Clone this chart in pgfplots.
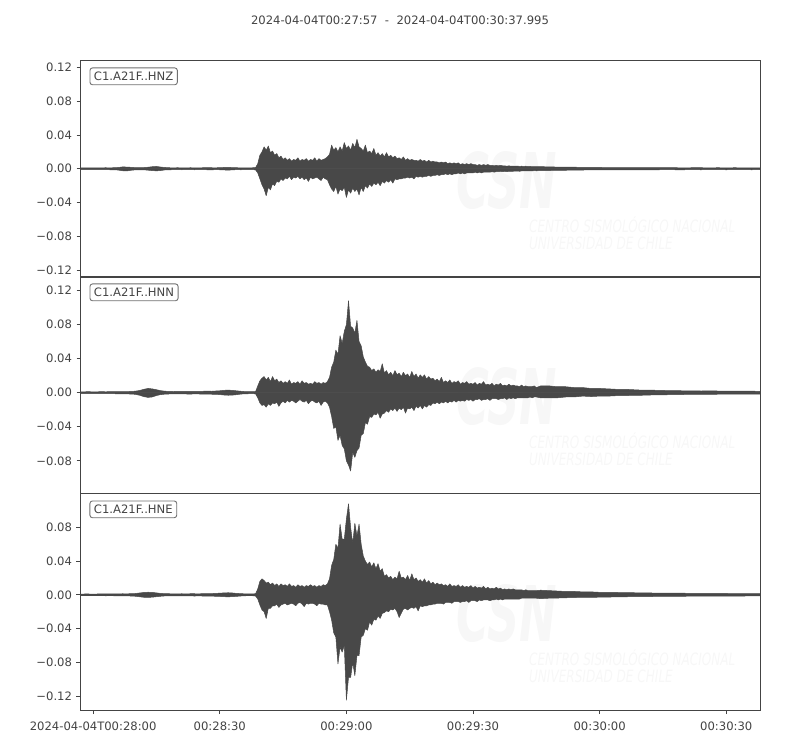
\documentclass[border=0pt]{standalone}
\usepackage{pgfplots}
\usepackage{pgfplotstable}
\pgfplotsset{compat=1.18}
\usepackage{fontspec}
\setmainfont{DejaVu Sans}

\definecolor{fg}{HTML}{444444}
\definecolor{tracecol}{HTML}{484848}
\definecolor{boxedge}{HTML}{707070}
\definecolor{wmark}{HTML}{F7F7F7}

% envelope of each trace: time (s after 00:28:00), upper, lower
\pgfplotstableread{
t u l
-3 0.0010 -0.0009
-2 0.0009 -0.0011
-1 0.0011 -0.0010
0 0.0010 -0.0009
1 0.0009 -0.0011
2 0.0011 -0.0010
3 0.0012 -0.0011
4 0.0010 -0.0012
5 0.0013 -0.0012
6 0.0015 -0.0016
7 0.0022 -0.0024
8 0.0020 -0.0026
9 0.0017 -0.0018
10 0.0013 -0.0013
11 0.0012 -0.0012
12 0.0014 -0.0013
13 0.0018 -0.0017
14 0.0024 -0.0022
15 0.0027 -0.0025
16 0.0020 -0.0021
17 0.0015 -0.0014
18 0.0012 -0.0013
19 0.0011 -0.0011
20 0.0012 -0.0010
21 0.0011 -0.0012
22 0.0010 -0.0011
23 0.0012 -0.0011
24 0.0011 -0.0012
25 0.0010 -0.0010
26 0.0012 -0.0011
27 0.0013 -0.0012
28 0.0012 -0.0013
29 0.0011 -0.0011
30 0.0013 -0.0012
31 0.0015 -0.0014
32 0.0016 -0.0017
33 0.0014 -0.0013
34 0.0012 -0.0011
35 0.0011 -0.0012
36 0.0010 -0.0011
37 0.0011 -0.0010
38 0.0012 -0.0011
38.5 0.0015 -0.0015
39 0.006 -0.005
39.5 0.016 -0.012
40 0.020 -0.019
40.5 0.026 -0.024
41 0.022 -0.032
41.5 0.027 -0.022
42 0.019 -0.025
42.5 0.021 -0.018
43 0.016 -0.020
43.5 0.018 -0.015
44 0.013 -0.016
44.5 0.015 -0.012
45 0.011 -0.014
45.5 0.013 -0.011
46 0.010 -0.012
46.5 0.012 -0.009
47 0.009 -0.013
47.5 0.011 -0.010
48 0.010 -0.011
48.5 0.013 -0.009
49 0.009 -0.012
49.5 0.011 -0.010
50 0.010 -0.013
50.5 0.012 -0.011
51 0.009 -0.015
51.5 0.011 -0.010
52 0.010 -0.012
52.5 0.013 -0.011
53 0.009 -0.010
53.5 0.012 -0.012
54 0.010 -0.014
54.5 0.011 -0.010
55 0.012 -0.012
55.5 0.014 -0.013
56 0.017 -0.019
56.5 0.028 -0.024
57 0.022 -0.027
57.5 0.025 -0.021
58 0.020 -0.030
58.5 0.026 -0.024
59 0.021 -0.026
59.5 0.031 -0.022
60 0.024 -0.034
60.5 0.027 -0.025
61 0.022 -0.029
61.5 0.030 -0.023
62 0.025 -0.027
62.5 0.035 -0.024
63 0.026 -0.031
63.5 0.024 -0.022
64 0.021 -0.027
64.5 0.028 -0.020
65 0.019 -0.023
65.5 0.021 -0.018
66 0.018 -0.021
66.5 0.024 -0.017
67 0.016 -0.019
67.5 0.019 -0.016
68 0.015 -0.020
68.5 0.018 -0.015
69 0.014 -0.017
69.5 0.019 -0.014
70 0.014 -0.016
70.5 0.016 -0.013
71 0.013 -0.017
71.5 0.015 -0.012
72 0.012 -0.013
72.5 0.013 -0.012
73 0.011 -0.012
73.5 0.014 -0.011
74 0.010 -0.011
74.5 0.012 -0.010
75 0.010 -0.011
75.5 0.011 -0.010
76 0.010 -0.012
76.5 0.010 -0.009
77 0.009 -0.010
77.5 0.011 -0.009
78 0.009 -0.010
78.5 0.010 -0.009
79 0.008 -0.009
79.5 0.010 -0.008
80 0.008 -0.009
80.5 0.009 -0.008
81 0.008 -0.008
81.5 0.008 -0.007
82 0.007 -0.008
82.5 0.008 -0.007
83 0.007 -0.007
83.5 0.008 -0.006
84 0.006 -0.007
84.5 0.007 -0.006
85 0.006 -0.007
85.5 0.007 -0.006
86 0.006 -0.006
86.5 0.007 -0.005
87 0.005 -0.006
87.5 0.006 -0.005
88 0.005 -0.006
88.5 0.006 -0.005
89 0.005 -0.005
89.5 0.006 -0.005
90 0.005 -0.005
90.5 0.005 -0.004
91 0.004 -0.005
91.5 0.005 -0.004
92 0.004 -0.005
92.5 0.005 -0.004
93 0.004 -0.004
93.5 0.005 -0.004
94 0.004 -0.004
94.5 0.004 -0.0035
95 0.0035 -0.004
95.5 0.004 -0.0035
96 0.0035 -0.0035
96.5 0.004 -0.003
97 0.0035 -0.0035
97.5 0.0035 -0.003
98 0.003 -0.0035
98.5 0.0035 -0.003
99 0.003 -0.003
99.5 0.0032 -0.003
100 0.003 -0.0028
100.5 0.0032 -0.0028
101 0.0028 -0.003
101.5 0.003 -0.0026
102 0.0028 -0.0026
102.5 0.003 -0.0025
103 0.0026 -0.0026
103.5 0.0028 -0.0024
104 0.0025 -0.0025
104.5 0.0026 -0.0023
105 0.0024 -0.0024
106 0.0025 -0.0023
108 0.0022 -0.0021
110 0.0020 -0.0020
112 0.0019 -0.0018
114 0.0018 -0.0016
116 0.0017 -0.0015
118 0.0016 -0.0014
120 0.0015 -0.0014
122 0.0014 -0.0013
124 0.0014 -0.0014
126 0.0013 -0.0012
128 0.0014 -0.0013
130 0.0012 -0.0013
132 0.0013 -0.0012
134 0.0012 -0.0012
136 0.0013 -0.0011
138 0.0012 -0.0012
140 0.0011 -0.0012
142 0.0012 -0.0011
144 0.0012 -0.0012
146 0.0011 -0.0011
148 0.0012 -0.0011
150 0.0011 -0.0012
152 0.0012 -0.0011
154 0.0011 -0.0011
156 0.0011 -0.0012
158 0.0011 -0.0011
}\hnz

\pgfplotstableread{
t u l
-3 0.0010 -0.0011
-2 0.0011 -0.0010
-1 0.0012 -0.0011
0 0.0010 -0.0012
1 0.0011 -0.0010
2 0.0012 -0.0012
3 0.0011 -0.0011
4 0.0012 -0.0010
5 0.0013 -0.0012
6 0.0012 -0.0013
7 0.0014 -0.0013
8 0.0013 -0.0014
9 0.0015 -0.0016
10 0.0018 -0.0019
11 0.0026 -0.0030
12 0.0040 -0.0046
13 0.0050 -0.0055
14 0.0045 -0.0050
15 0.0035 -0.0033
16 0.0024 -0.0022
17 0.0018 -0.0017
18 0.0015 -0.0015
19 0.0014 -0.0013
20 0.0015 -0.0014
21 0.0016 -0.0015
22 0.0014 -0.0015
23 0.0016 -0.0016
24 0.0015 -0.0014
25 0.0016 -0.0015
26 0.0017 -0.0016
27 0.0018 -0.0017
28 0.0017 -0.0018
29 0.0020 -0.0019
30 0.0023 -0.0022
31 0.0028 -0.0027
32 0.0031 -0.0030
33 0.0027 -0.0028
34 0.0022 -0.0023
35 0.0017 -0.0016
36 0.0013 -0.0013
37 0.0012 -0.0012
38 0.0012 -0.0011
38.5 0.0015 -0.0015
39 0.008 -0.006
39.5 0.014 -0.012
40 0.017 -0.015
40.5 0.019 -0.014
41 0.015 -0.017
41.5 0.018 -0.013
42 0.013 -0.015
42.5 0.019 -0.012
43 0.014 -0.013
43.5 0.016 -0.011
44 0.012 -0.016
44.5 0.014 -0.012
45 0.011 -0.010
45.5 0.013 -0.012
46 0.011 -0.009
46.5 0.015 -0.011
47 0.010 -0.009
47.5 0.012 -0.010
48 0.011 -0.012
48.5 0.013 -0.010
49 0.010 -0.008
49.5 0.014 -0.010
50 0.011 -0.011
50.5 0.012 -0.009
51 0.010 -0.013
51.5 0.011 -0.010
52 0.010 -0.009
52.5 0.013 -0.011
53 0.011 -0.012
53.5 0.012 -0.010
54 0.010 -0.015
54.5 0.012 -0.011
55 0.011 -0.010
55.5 0.013 -0.012
56 0.018 -0.017
56.5 0.030 -0.028
57 0.036 -0.042
57.5 0.050 -0.040
58 0.045 -0.056
58.5 0.067 -0.050
59 0.058 -0.062
59.5 0.072 -0.066
60 0.080 -0.080
60.5 0.108 -0.085
61 0.078 -0.092
61.5 0.076 -0.070
62 0.070 -0.076
62.5 0.085 -0.068
63 0.060 -0.065
63.5 0.055 -0.050
64 0.042 -0.048
64.5 0.036 -0.035
65 0.031 -0.037
65.5 0.030 -0.028
66 0.026 -0.029
66.5 0.028 -0.025
67 0.024 -0.026
67.5 0.027 -0.023
68 0.025 -0.030
68.5 0.034 -0.025
69 0.023 -0.024
69.5 0.026 -0.021
70 0.021 -0.023
70.5 0.024 -0.019
71 0.020 -0.021
71.5 0.026 -0.018
72 0.021 -0.022
72.5 0.023 -0.018
73 0.019 -0.020
73.5 0.024 -0.017
74 0.020 -0.024
74.5 0.022 -0.018
75 0.018 -0.019
75.5 0.025 -0.017
76 0.019 -0.021
76.5 0.022 -0.016
77 0.017 -0.018
77.5 0.021 -0.015
78 0.018 -0.019
78.5 0.021 -0.015
79 0.016 -0.017
79.5 0.019 -0.014
80 0.016 -0.015
80.5 0.017 -0.012
81 0.014 -0.013
81.5 0.016 -0.011
82 0.013 -0.013
82.5 0.018 -0.011
83 0.012 -0.012
83.5 0.014 -0.010
84 0.012 -0.012
84.5 0.015 -0.010
85 0.011 -0.011
85.5 0.013 -0.009
86 0.012 -0.011
86.5 0.014 -0.009
87 0.010 -0.010
87.5 0.012 -0.009
88 0.011 -0.010
88.5 0.013 -0.008
89 0.010 -0.009
89.5 0.011 -0.008
90 0.010 -0.010
90.5 0.012 -0.008
91 0.009 -0.008
91.5 0.011 -0.007
92 0.010 -0.009
92.5 0.013 -0.008
93 0.009 -0.008
93.5 0.010 -0.007
94 0.009 -0.009
94.5 0.011 -0.007
95 0.008 -0.007
95.5 0.010 -0.007
96 0.009 -0.008
96.5 0.011 -0.007
97 0.008 -0.007
97.5 0.009 -0.006
98 0.008 -0.008
98.5 0.010 -0.006
99 0.008 -0.007
99.5 0.009 -0.006
100 0.008 -0.007
100.5 0.008 -0.006
101 0.007 -0.006
101.5 0.009 -0.006
102 0.007 -0.006
102.5 0.008 -0.006
103 0.007 -0.006
103.5 0.007 -0.005
104 0.007 -0.006
104.5 0.008 -0.005
105 0.006 -0.005
106 0.008 -0.006
108 0.008 -0.006
110 0.007 -0.006
112 0.007 -0.005
114 0.006 -0.005
116 0.006 -0.004
118 0.005 -0.0045
120 0.005 -0.004
122 0.0045 -0.004
124 0.004 -0.0035
126 0.004 -0.0035
128 0.0035 -0.003
130 0.003 -0.003
132 0.003 -0.0027
134 0.0028 -0.0025
136 0.0025 -0.0024
138 0.0025 -0.0022
140 0.0022 -0.0021
142 0.0022 -0.0020
144 0.0020 -0.0020
146 0.0021 -0.0019
148 0.0020 -0.0018
150 0.0019 -0.0018
152 0.0019 -0.0017
154 0.0018 -0.0017
156 0.0018 -0.0016
158 0.0016 -0.0016
}\hnn

\pgfplotstableread{
t u l
-3 0.0009 -0.0009
-2 0.0010 -0.0010
-1 0.0010 -0.0009
0 0.0009 -0.0010
1 0.0010 -0.0009
2 0.0011 -0.0010
3 0.0011 -0.0011
4 0.0010 -0.0010
5 0.0011 -0.0011
6 0.0012 -0.0012
7 0.0013 -0.0012
8 0.0012 -0.0013
9 0.0014 -0.0014
10 0.0016 -0.0017
11 0.0022 -0.0023
12 0.0028 -0.0029
13 0.0031 -0.0030
14 0.0029 -0.0028
15 0.0023 -0.0022
16 0.0017 -0.0017
17 0.0014 -0.0013
18 0.0013 -0.0012
19 0.0012 -0.0012
20 0.0012 -0.0013
21 0.0013 -0.0012
22 0.0012 -0.0012
23 0.0013 -0.0013
24 0.0013 -0.0014
25 0.0012 -0.0013
26 0.0014 -0.0014
27 0.0015 -0.0015
28 0.0015 -0.0016
29 0.0017 -0.0017
30 0.0020 -0.0019
31 0.0023 -0.0022
32 0.0025 -0.0024
33 0.0022 -0.0021
34 0.0017 -0.0018
35 0.0014 -0.0014
36 0.0012 -0.0011
37 0.0011 -0.0010
38 0.0011 -0.0011
38.5 0.0015 -0.0015
39 0.007 -0.005
39.5 0.016 -0.012
40 0.019 -0.018
40.5 0.017 -0.020
41 0.014 -0.028
41.5 0.015 -0.016
42 0.012 -0.016
42.5 0.014 -0.013
43 0.011 -0.013
43.5 0.013 -0.011
44 0.010 -0.015
44.5 0.013 -0.012
45 0.011 -0.011
45.5 0.012 -0.010
46 0.010 -0.012
46.5 0.013 -0.011
47 0.010 -0.010
47.5 0.011 -0.011
48 0.009 -0.013
48.5 0.012 -0.010
49 0.010 -0.009
49.5 0.011 -0.011
50 0.009 -0.014
50.5 0.011 -0.010
51 0.010 -0.011
51.5 0.012 -0.010
52 0.010 -0.010
52.5 0.011 -0.011
53 0.009 -0.013
53.5 0.011 -0.010
54 0.010 -0.011
54.5 0.012 -0.011
55 0.011 -0.012
55.5 0.013 -0.012
56 0.019 -0.020
56.5 0.035 -0.030
57 0.042 -0.045
57.5 0.060 -0.050
58 0.055 -0.082
58.5 0.084 -0.062
59 0.066 -0.068
59.5 0.066 -0.060
60 0.090 -0.125
60.5 0.108 -0.098
61 0.080 -0.098
61.5 0.061 -0.080
62 0.085 -0.096
62.5 0.070 -0.072
63 0.084 -0.072
63.5 0.060 -0.050
64 0.046 -0.048
64.5 0.040 -0.040
65 0.036 -0.042
65.5 0.039 -0.032
66 0.033 -0.036
66.5 0.038 -0.029
67 0.031 -0.030
67.5 0.037 -0.025
68 0.028 -0.028
68.5 0.031 -0.022
69 0.022 -0.021
69.5 0.024 -0.019
70 0.020 -0.020
70.5 0.022 -0.017
71 0.018 -0.018
71.5 0.021 -0.016
72 0.019 -0.020
72.5 0.028 -0.027
73 0.020 -0.022
73.5 0.021 -0.017
74 0.018 -0.016
74.5 0.023 -0.018
75 0.017 -0.016
75.5 0.025 -0.015
76 0.018 -0.016
76.5 0.020 -0.014
77 0.016 -0.019
77.5 0.018 -0.013
78 0.015 -0.014
78.5 0.019 -0.013
79 0.014 -0.013
79.5 0.017 -0.012
80 0.013 -0.012
80.5 0.015 -0.011
81 0.012 -0.011
81.5 0.014 -0.010
82 0.012 -0.010
82.5 0.013 -0.010
83 0.011 -0.011
83.5 0.012 -0.009
84 0.010 -0.009
84.5 0.013 -0.009
85 0.010 -0.010
85.5 0.011 -0.008
86 0.010 -0.008
86.5 0.012 -0.008
87 0.009 -0.009
87.5 0.011 -0.008
88 0.009 -0.008
88.5 0.010 -0.007
89 0.009 -0.009
89.5 0.011 -0.007
90 0.008 -0.007
90.5 0.010 -0.007
91 0.008 -0.008
91.5 0.009 -0.006
92 0.008 -0.007
92.5 0.010 -0.006
93 0.007 -0.006
93.5 0.009 -0.006
94 0.007 -0.007
94.5 0.008 -0.006
95 0.007 -0.006
95.5 0.009 -0.005
96 0.007 -0.006
96.5 0.008 -0.005
97 0.006 -0.006
97.5 0.007 -0.005
98 0.006 -0.005
98.5 0.007 -0.005
99 0.006 -0.005
99.5 0.007 -0.005
100 0.006 -0.005
100.5 0.006 -0.005
101 0.006 -0.005
101.5 0.006 -0.004
102 0.005 -0.004
102.5 0.006 -0.004
103 0.005 -0.004
103.5 0.005 -0.004
104 0.005 -0.004
104.5 0.005 -0.004
105 0.005 -0.004
106 0.0055 -0.0045
108 0.005 -0.004
110 0.0045 -0.0038
112 0.004 -0.0035
114 0.004 -0.0032
116 0.0035 -0.003
118 0.0035 -0.003
120 0.003 -0.0028
122 0.003 -0.0026
124 0.0028 -0.0025
126 0.0026 -0.0023
128 0.0025 -0.0022
130 0.0023 -0.0021
132 0.0022 -0.0020
134 0.0021 -0.0019
136 0.0020 -0.0018
138 0.0020 -0.0018
140 0.0019 -0.0017
142 0.0018 -0.0016
144 0.0017 -0.0016
146 0.0017 -0.0015
148 0.0016 -0.0015
150 0.0016 -0.0014
152 0.0015 -0.0014
154 0.0015 -0.0014
156 0.0014 -0.0013
158 0.0014 -0.0013
}\hne

\pgfplotsset{
  seis/.style={
    scale only axis,
    width=679.5pt, height=216.5pt,
    anchor=south west,
    xmin=-3, xmax=157.995,
    axis line style={fg, line width=0.9pt},
    tick style={fg, line width=0.9pt},
    tick align=outside,
    major tick length=4pt,
    ytick pos=left, xtick pos=bottom,
    ticklabel style={font=\fontsize{11.6}{13}\selectfont, text=fg},
    yticklabel style={xshift=-1pt},
    xticklabel style={yshift=-4pt},
    clip=true,
  },
}
\tikzset{
  envfill/.style={draw=tracecol, fill=tracecol, line width=0.5pt, line join=round},
  stn/.style={draw=boxedge, fill=white, rounded corners=2.5pt, line width=0.9pt,
    text=fg, font=\fontsize{11.6}{13}\selectfont, inner xsep=4pt, inner ysep=4pt,
    anchor=north west},
}

\newcommand{\wmk}{%
  \node[text=wmark, font=\fontsize{64}{64}\selectfont\bfseries\itshape]
    at (rel axis cs:0.627,0.447) {\scalebox{0.7}[1.2]{CSN}};
  \node[text=wmark, font=\fontsize{17}{17}\selectfont\itshape, anchor=west, align=left]
    at (rel axis cs:0.655,0.20) {\scalebox{0.71}[1]{CENTRO SISMOLÓGICO NACIONAL}\\\scalebox{0.71}[1]{UNIVERSIDAD DE CHILE}};
}

\begin{document}
\begin{tikzpicture}
\path[use as bounding box] (0,0) rectangle (800pt,750pt);

\node[text=fg, font=\fontsize{11.6}{13}\selectfont] at (400pt,730pt)
  {2024-04-04T00:27:57\ \ -\ \ 2024-04-04T00:30:37.995};

% HNZ
\begin{axis}[seis, at={(80.5pt,473pt)},
  ymin=-0.1283, ymax=0.1283,
  xtick=\empty,
  ytick={-0.12,-0.08,-0.04,0,0.04,0.08,0.12},
  yticklabels={−0.12,−0.08,−0.04,0.00,0.04,0.08,0.12}]
\wmk
\addplot[envfill] table[x=t, y=u] {\hnz} \closedcycle;
\addplot[envfill] table[x=t, y=l] {\hnz} \closedcycle;
\node[stn] at ([xshift=9pt,yshift=-7pt]rel axis cs:0,1) {C1.A21F..HNZ};
\end{axis}

% HNN
\begin{axis}[seis, at={(80.5pt,257pt)},
  ymin=-0.1178, ymax=0.1365,
  xtick=\empty,
  ytick={-0.08,-0.04,0,0.04,0.08,0.12},
  yticklabels={−0.08,−0.04,0.00,0.04,0.08,0.12}]
\wmk
\addplot[envfill] table[x=t, y=u] {\hnn} \closedcycle;
\addplot[envfill] table[x=t, y=l] {\hnn} \closedcycle;
\node[stn] at ([xshift=9pt,yshift=-7pt]rel axis cs:0,1) {C1.A21F..HNN};
\end{axis}

% HNE
\begin{axis}[seis, at={(80.5pt,40pt)},
  ymin=-0.1366, ymax=0.1202,
  xtick={0,30,60,90,120,150},
  xticklabels={2024-04-04T00:28:00,00:28:30,00:29:00,00:29:30,00:30:00,00:30:30},
  ytick={-0.12,-0.08,-0.04,0,0.04,0.08},
  yticklabels={−0.12,−0.08,−0.04,0.00,0.04,0.08}]
\wmk
\addplot[envfill] table[x=t, y=u] {\hne} \closedcycle;
\addplot[envfill] table[x=t, y=l] {\hne} \closedcycle;
\node[stn] at ([xshift=9pt,yshift=-7pt]rel axis cs:0,1) {C1.A21F..HNE};
\end{axis}
\end{tikzpicture}
\end{document}
